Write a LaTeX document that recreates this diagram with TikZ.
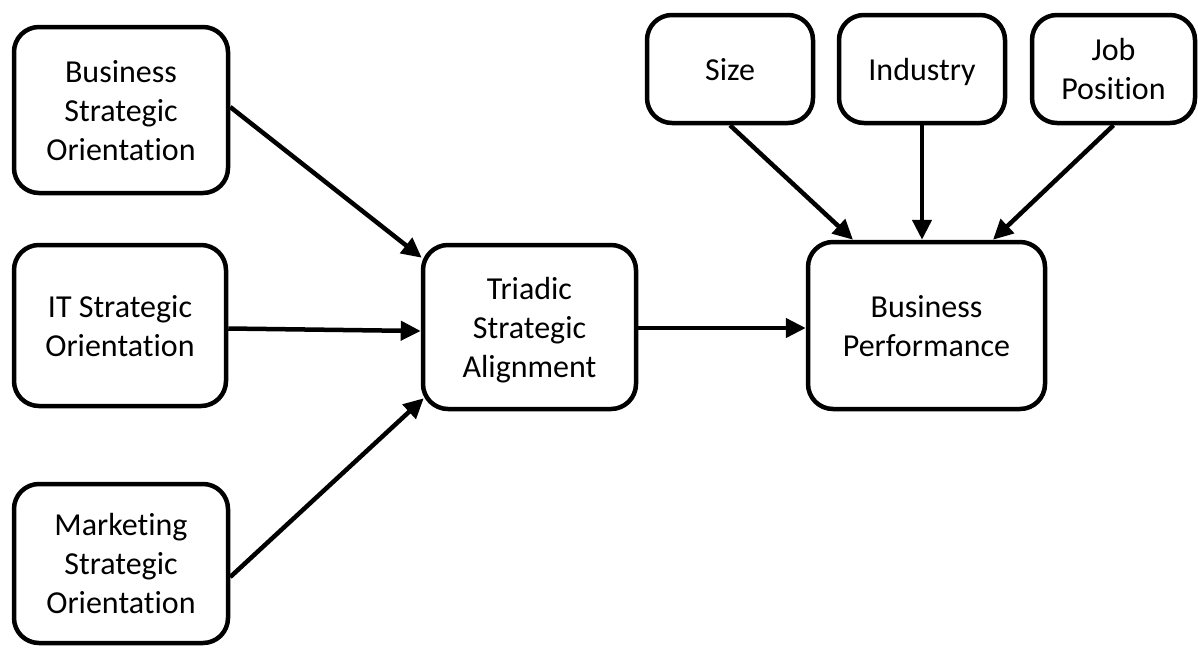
\documentclass[tikz,border=0pt]{standalone}
\usepackage{fontspec}
\setmainfont{Carlito}[Ligatures=NoCommon]
\usetikzlibrary{arrows.meta}
\newcommand\hstrut{\rule{0pt}{34pt}}

\begin{document}
\begin{tikzpicture}[x=1pt,y=-1pt,>={Triangle[length=20pt,width=19pt]},
  box/.style={draw,line width=4.5pt,rounded corners=25pt,align=center,
    font=\fontsize{32}{39}\selectfont,inner sep=0pt,
    execute at end node={\rule[-12pt]{0pt}{12pt}}},
  link/.style={->,line width=4.5pt}]
  \useasboundingbox (0,0) rectangle (1198,648);
  \node[box,minimum width=214pt,minimum height=166pt] (bso) at (121,110) {\hstrut Business\\Strategic\\Orientation};
  \node[box,minimum width=212pt,minimum height=161pt] (itso) at (120,325.5) {\hstrut IT Strategic\\Orientation};
  \node[box,minimum width=214pt,minimum height=159pt] (mso) at (121,563.5) {\hstrut Marketing\\Strategic\\Orientation};
  \node[box,minimum width=213pt,minimum height=164pt] (tsa) at (529.5,327) {\hstrut Triadic\\Strategic\\Alignment};
  \node[box,minimum width=237pt,minimum height=167pt] (bp) at (926.5,325.5) {\hstrut Business\\Performance};
  \node[box,minimum width=166pt,minimum height=108pt] (size) at (730,69) {\hstrut Size};
  \node[box,minimum width=166pt,minimum height=108pt] (ind) at (922,69) {\hstrut Industry};
  \node[box,minimum width=163pt,minimum height=108pt] (job) at (1113.5,69) {\hstrut Job\\Position};
  \draw[link] ([yshift=3pt]bso.east) -- ([xshift=1pt,yshift=-15pt]tsa.north west);
  \draw[link] ([yshift=-3pt]itso.east) -- ([yshift=-4pt]tsa.west);
  \draw[link] ([yshift=-13.5pt]mso.east) -- ([xshift=3pt,yshift=13pt]tsa.south west);
  \draw[link] ([yshift=-1pt]tsa.east) -- ([yshift=-2.5pt]bp.west);
  \draw[link] (size.south) -- ([xshift=-73.5pt]bp.north);
  \draw[link] (ind.south) -- (ind.south |- bp.north);
  \draw[link] (job.south) -- ([xshift=66.5pt]bp.north);
\end{tikzpicture}
\end{document}
